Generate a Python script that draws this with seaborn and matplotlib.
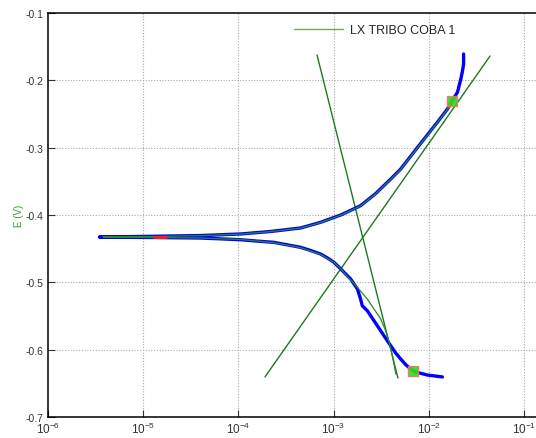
import numpy as np
import pandas as pd
import matplotlib
matplotlib.use("Agg")
import matplotlib.pyplot as plt
import seaborn as sns
from matplotlib.lines import Line2D
from matplotlib.ticker import LogLocator, FixedLocator, NullFormatter

# ---- data ----
# measured scan (cathodic end -> Ecorr -> anodic end)
scan_current = [1.39e-2, 9.68e-3, 7.30e-3, 6.47e-3, 5.73e-3, 5.07e-3, 4.49e-3, 3.98e-3,
                3.38e-3, 2.88e-3, 2.26e-3, 2.00e-3, 1.92e-3, 1.78e-3, 1.51e-3, 1.34e-3,
                1.19e-3, 1.01e-3, 8.64e-4, 7.29e-4, 5.73e-4, 4.50e-4, 2.35e-4, 1.55e-4,
                1.05e-4, 6.46e-5, 3.98e-5, 1.19e-5, 3.47e-6,
                1.19e-5, 3.98e-5, 1.05e-4, 2.17e-4, 4.50e-4, 7.29e-4, 1.19e-3, 1.92e-3,
                2.77e-3, 3.98e-3, 5.07e-3, 6.73e-3, 8.93e-3, 1.19e-2, 1.57e-2, 1.75e-2,
                2.0e-2, 2.17e-2, 2.26e-2, 2.32e-2, 2.32e-2]
scan_potential = [-0.6405, -0.6377, -0.6332, -0.6287, -0.6224, -0.6139, -0.6050, -0.5941,
                  -0.5793, -0.5644, -0.5422, -0.5347, -0.5248, -0.5099, -0.4951, -0.4876,
                  -0.4802, -0.4703, -0.4639, -0.4579, -0.4527, -0.4480, -0.4406, -0.4387,
                  -0.4367, -0.4354, -0.4342, -0.4334, -0.4327,
                  -0.4317, -0.4305, -0.4282, -0.4245, -0.4193, -0.4109, -0.4000, -0.3862,
                  -0.3681, -0.3466, -0.3317, -0.3094, -0.2871, -0.2649, -0.2426, -0.2307,
                  -0.2178, -0.1980, -0.1861, -0.1757, -0.1609]

# fitted model curve
fit_current = [4.50e-3, 4.17e-3, 3.88e-3, 3.53e-3, 3.13e-3, 2.70e-3, 2.26e-3, 1.92e-3,
               1.58e-3, 1.19e-3, 1.01e-3, 7.29e-4, 4.50e-4, 2.31e-4, 1.05e-4, 3.98e-5,
               1.19e-5, 3.79e-6, 1.19e-5, 3.98e-5, 1.05e-4, 2.17e-4, 4.50e-4, 7.29e-4,
               1.19e-3, 1.92e-3, 2.77e-3, 3.98e-3, 5.07e-3, 6.73e-3, 8.93e-3, 1.19e-2,
               1.57e-2, 1.75e-2]
fit_potential = [-0.6362, -0.6109, -0.5916, -0.5723, -0.5545, -0.5411, -0.5248, -0.5129,
                 -0.4995, -0.4802, -0.4703, -0.4585, -0.4485, -0.4409, -0.4364, -0.4342,
                 -0.4334, -0.4327, -0.4320, -0.4307, -0.4284, -0.4247, -0.4195, -0.4112,
                 -0.4004, -0.3866, -0.3686, -0.3471, -0.3322, -0.3099, -0.2876, -0.2654,
                 -0.2431, -0.2312]

# Tafel lines (end points)
anodic_tafel_current = [1.90e-4, 4.40e-2]
anodic_tafel_potential = [-0.6406, -0.1639]
cathodic_tafel_current = [6.70e-4, 4.74e-3]
cathodic_tafel_potential = [-0.1624, -0.6421]

# fit-region segments (red)
red_seg_current = [[1.62e-2, 1.88e-2], [6.3e-3, 7.5e-3], [1.3e-5, 1.75e-5]]
red_seg_potential = [[-0.2400, -0.2250], [-0.6275, -0.6340], [-0.4331, -0.4331]]

# fit points (green squares)
marker_current = [1.75e-2, 6.82e-3]
marker_potential = [-0.2307, -0.6317]

y_ticks = [-0.7, -0.6, -0.5, -0.4, -0.3, -0.2, -0.1]
x_ticks = [1e-6, 1e-5, 1e-4, 1e-3, 1e-2, 1e-1, 1e0]
legend_label = "LX TRIBO COBA 1"

# ---- figure ----
sns.set_style("white")
plt.rcParams['font.family'] = ['Liberation Sans', 'DejaVu Sans']
plt.rcParams['mathtext.fontset'] = 'custom'
plt.rcParams['mathtext.rm'] = 'Liberation Sans'
plt.rcParams['mathtext.it'] = 'Liberation Sans:italic'
plt.rcParams['mathtext.bf'] = 'Liberation Sans:bold'
fig = plt.figure(figsize=(5.36, 4.39), dpi=100)
W, H = 536, 439
left_px, right_px, top_px, bot_px = 48, 48 + 6 * 95.2, 14, 418
ax = fig.add_axes([left_px / W, (H - bot_px) / H, (right_px - left_px) / W, (bot_px - top_px) / H])

ax.set_xscale("log")
ax.set_xlim(1e-6, 1e0)
ax.set_ylim(-0.7, -0.1)

grid_kw = dict(color="#a8a8a8", lw=0.8, ls=(0, (1, 1.5)), zorder=0)
for xv in x_ticks[1:-1]:
    ax.axvline(xv, **grid_kw)
for yv in y_ticks[1:-1]:
    ax.axhline(yv, **grid_kw)

line_kw = dict(sort=False, estimator=None, ax=ax)
tafel_color = "#1b7a1b"
sns.lineplot(x=anodic_tafel_current, y=anodic_tafel_potential, color=tafel_color,
             lw=1.0, zorder=2, **line_kw)
sns.lineplot(x=cathodic_tafel_current, y=cathodic_tafel_potential, color=tafel_color,
             lw=1.0, zorder=2, **line_kw)

scan_df = pd.DataFrame({"I": scan_current, "E": scan_potential})
sns.lineplot(data=scan_df, x="I", y="E", color="#0000ff", lw=2.4, zorder=3, **line_kw)

fit_df = pd.DataFrame({"I": fit_current, "E": fit_potential})
sns.lineplot(data=fit_df, x="I", y="E", color="#2a8a2a", lw=0.9, zorder=4, **line_kw)

for xc, yc in zip(red_seg_current, red_seg_potential):
    sns.lineplot(x=xc, y=yc, color="#ff1a1a", lw=2.0, zorder=5, **line_kw)

sns.scatterplot(x=marker_current, y=marker_potential, ax=ax, marker="s", s=55,
                color="#22dd22", edgecolor="#ff6a6a", linewidth=1.0, zorder=6, alpha=0.9)

# ticks
ax.set_xticks(x_ticks)
ax.set_xticklabels([r"$10^{%d}$" % int(np.log10(v)) for v in x_ticks])
ax.xaxis.set_minor_locator(LogLocator(base=10, subs=np.arange(2, 10)))
ax.xaxis.set_minor_formatter(NullFormatter())
ax.set_yticks(y_ticks)
ax.set_yticklabels(["%.1f" % v for v in y_ticks])
ax.yaxis.set_minor_locator(FixedLocator([-0.65, -0.55, -0.45, -0.35, -0.25, -0.15]))
ax.tick_params(axis="both", which="major", direction="in", length=5, width=0.8,
               labelsize=7.5, labelcolor="#333333", color="#333333", pad=3)
ax.tick_params(axis="x", which="major", labelsize=8.5)
ax.tick_params(axis="both", which="minor", direction="in", length=3, width=0.8, color="#333333")
ax.tick_params(top=False, right=False, bottom=True, left=True)

for s in ["left", "top", "bottom"]:
    ax.spines[s].set_color("black")
    ax.spines[s].set_linewidth(1.1)
ax.spines["right"].set_visible(False)

ax.set_xlabel("")
ax.set_ylabel("E (V)", color="#2ca02c", fontsize=7, labelpad=1)

handle = Line2D([0], [0], color="#7aa84e", lw=1.0)
ax.legend([handle], [legend_label], loc="center left",
          bbox_to_anchor=((294 - left_px) / (right_px - left_px), (bot_px - 31) / (bot_px - top_px)),
          frameon=False, fontsize=9, handlelength=3.9, handletextpad=0.6,
          borderpad=0, borderaxespad=0)

fig.savefig("out.png", dpi=100)
